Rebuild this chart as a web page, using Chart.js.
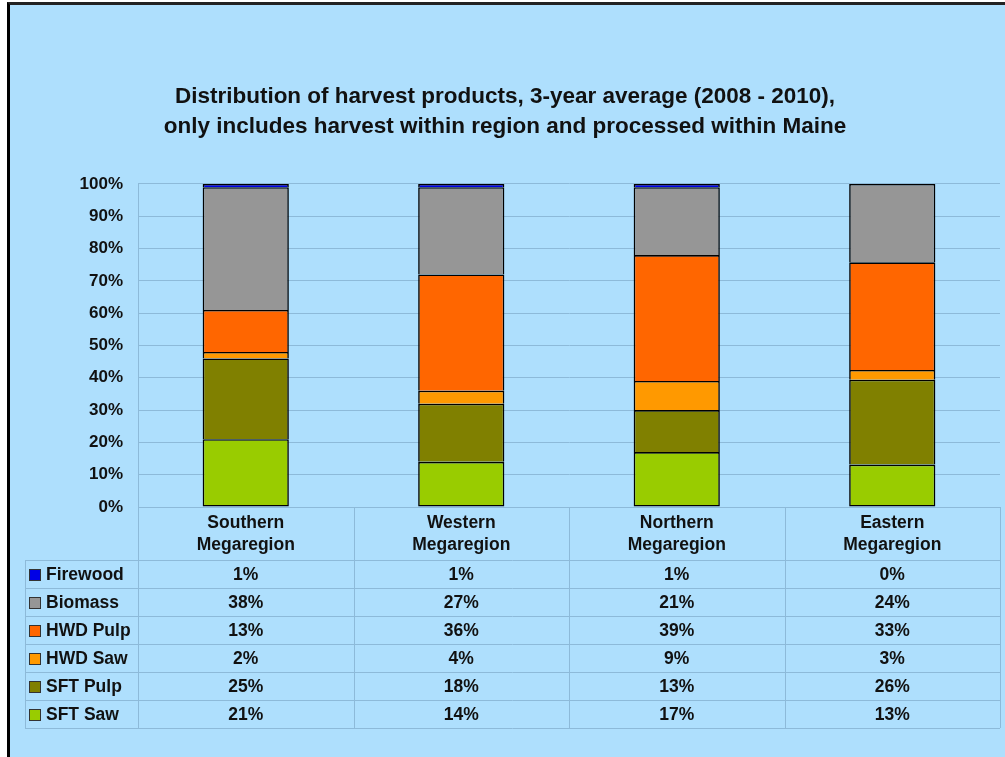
<!DOCTYPE html>
<html>
<head>
<meta charset="utf-8">
<script src="https://cdn.jsdelivr.net/npm/chart.js@4"></script>
<style>
  html, body { margin: 0; padding: 0; background: #fff; }
  #frame { position: absolute; left: 7px; top: 2px; width: 995px; height: 752px;
           border-left: 3px solid #000; border-top: 3px solid #222; background: #AEDFFD; }
  canvas { display: block; }
</style>
</head>
<body>
<div id="frame"><canvas id="harvestChart" width="995" height="752"></canvas></div>
<script>
const regions = [['Southern', 'Megaregion'], ['Western', 'Megaregion'], ['Northern', 'Megaregion'], ['Eastern', 'Megaregion']];
const firewood = [1, 1, 1, 0];
const biomass = [38, 27, 21, 24];
const hwdPulp = [13, 36, 39, 33];
const hwdSaw = [2, 4, 9, 3];
const sftPulp = [25, 18, 13, 26];
const sftSaw = [21, 14, 17, 13];
const yTicks = [0, 10, 20, 30, 40, 50, 60, 70, 80, 90, 100];

const gridColor = '#8DBAD9';
const textColor = '#111';
const fontFamily = 'Arial, "Liberation Sans", sans-serif';
const font = 'bold 17.5px ' + fontFamily;

// table rows top to bottom, bars stack bottom to top
const rows = [
    { label: 'Firewood', data: firewood, color: '#0000E6' },
    { label: 'Biomass', data: biomass, color: '#969696' },
    { label: 'HWD Pulp', data: hwdPulp, color: '#FF6600' },
    { label: 'HWD Saw', data: hwdSaw, color: '#FF9900' },
    { label: 'SFT Pulp', data: sftPulp, color: '#808000' },
    { label: 'SFT Saw', data: sftSaw, color: '#99CC00' }
];

const totals = regions.map((r, i) => rows.reduce((s, row) => s + row.data[i], 0));

const datasets = rows.slice().reverse().map((row, k) => ({
    label: row.label,
    data: row.data.map((v, i) => v / totals[i] * 100),
    backgroundColor: row.color,
    borderColor: '#000',
    borderWidth: 1.6,
    borderSkipped: k === 0 ? false : 'start',
    barPercentage: 0.4,
    categoryPercentage: 1
}));

const tablePlugin = {
    id: 'dataTable',
    afterDraw(chart) {
        const ctx = chart.ctx;
        const area = chart.chartArea;
        const xScale = chart.scales.x;
        const step = (area.right - area.left) / regions.length;
        const tableLeft = 15;
        const headBottom = area.bottom + 53;
        const rowH = 28;
        const tableBottom = headBottom + rows.length * rowH;

        ctx.save();
        ctx.strokeStyle = gridColor;
        ctx.lineWidth = 1;
        ctx.beginPath();
        for (let i = 0; i <= regions.length; i++) {
            const x = Math.round(area.left + i * step) + 0.5;
            ctx.moveTo(x, area.bottom);
            ctx.lineTo(x, tableBottom);
        }
        ctx.moveTo(tableLeft + 0.5, headBottom);
        ctx.lineTo(tableLeft + 0.5, tableBottom);
        for (let r = 0; r <= rows.length; r++) {
            const y = Math.round(headBottom + r * rowH) + 0.5;
            ctx.moveTo(tableLeft, y);
            ctx.lineTo(area.right, y);
        }
        ctx.stroke();

        ctx.fillStyle = textColor;
        ctx.font = font;
        ctx.textAlign = 'center';
        ctx.textBaseline = 'middle';
        regions.forEach((lines, i) => {
            const cx = xScale.getPixelForValue(i);
            lines.forEach((t, k) => ctx.fillText(t, cx, area.bottom + 16 + k * 22));
        });

        rows.forEach((row, r) => {
            const cy = headBottom + r * rowH + rowH / 2 + 1;
            ctx.fillStyle = row.color;
            ctx.fillRect(tableLeft + 4, cy - 6, 12, 12);
            ctx.strokeStyle = '#333';
            ctx.strokeRect(tableLeft + 4.5, cy - 5.5, 11, 11);
            ctx.fillStyle = textColor;
            ctx.textAlign = 'left';
            ctx.fillText(row.label, tableLeft + 21, cy);
            ctx.textAlign = 'center';
            row.data.forEach((v, i) => {
                ctx.fillText(Math.round(v) + '%', xScale.getPixelForValue(i), cy);
            });
        });
        ctx.restore();
    }
};

new Chart(document.getElementById('harvestChart').getContext('2d'), {
    type: 'bar',
    data: {
        labels: regions.map(r => r.join(' ')),
        datasets: datasets
    },
    options: {
        responsive: false,
        animation: false,
        layout: { padding: { left: 0, right: 5, top: 0, bottom: 250 } },
        plugins: {
            legend: { display: false },
            tooltip: { enabled: false },
            title: {
                display: true,
                text: ['Distribution of harvest products, 3-year average (2008 - 2010),',
                       'only includes harvest within region and processed within Maine'],
                color: textColor,
                font: { family: fontFamily, size: 22.5, weight: 'bold', lineHeight: 1.333 },
                padding: { top: 77, bottom: 42 }
            }
        },
        scales: {
            x: { display: false, stacked: true },
            y: {
                stacked: true,
                min: 0,
                max: 100,
                afterFit: scale => { scale.width = 128; },
                afterBuildTicks: scale => { scale.ticks = yTicks.map(v => ({ value: v })); },
                ticks: {
                    color: textColor,
                    font: { family: fontFamily, size: 17, weight: 'bold' },
                    padding: 15,
                    callback: v => v + '%'
                },
                grid: { color: gridColor, drawTicks: false },
                border: { color: gridColor }
            }
        }
    },
    plugins: [tablePlugin]
});
</script>
</body>
</html>
